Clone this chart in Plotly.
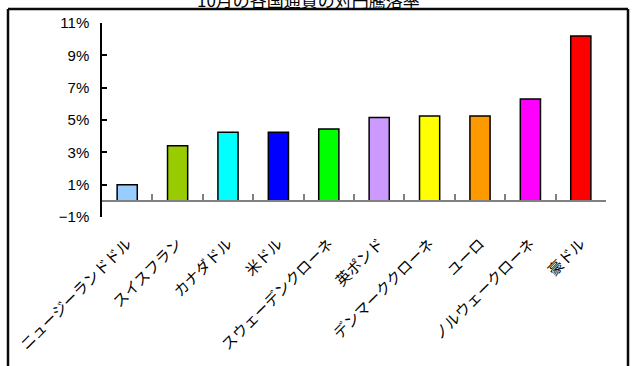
import plotly.graph_objects as go

# Currencies and their rate of change against the yen (%)
currencies = ["ニュージーランドドル", "スイスフラン", "カナダドル", "米ドル", "スウェーデンクローネ",
              "英ポンド", "デンマーククローネ", "ユーロ", "ノルウェークローネ", "豪ドル"]
change_pct = [1.0, 3.4, 4.25, 4.25, 4.45, 5.15, 5.25, 5.25, 6.3, 10.2]
bar_colors = ["#99CCFF", "#99CC00", "#00FFFF", "#0000FF", "#00FF00",
              "#CC99FF", "#FFFF00", "#FF9900", "#FF00FF", "#FF0000"]
y_ticks = [-1, 1, 3, 5, 7, 9, 11]
title_text = "10月の各国通貨の対円騰落率"

W, H = 632, 366
ML, MR, MT, MB = 102, 26, 23, 149
y_lo, y_hi = -1, 11
zero_frac = (0 - y_lo) / (y_hi - y_lo)

fig = go.Figure()
fig.add_trace(go.Bar(
    x=currencies, y=change_pct, width=0.4,
    marker=dict(color=bar_colors, line=dict(color="black", width=1.5)),
    xaxis="x", yaxis="y", showlegend=False,
))
# invisible twin used only to carry the category labels at the bottom
fig.add_trace(go.Bar(
    x=currencies, y=[None] * len(currencies), xaxis="x2", yaxis="y",
    showlegend=False, hoverinfo="skip",
))

fig.update_layout(
    width=W, height=H,
    margin=dict(l=ML, r=MR, t=MT, b=MB),
    paper_bgcolor="white", plot_bgcolor="white",
    bargap=0.6,
    xaxis=dict(
        type="category", range=[-0.5, len(currencies) - 0.5],
        anchor="free", position=zero_frac, automargin=False,
        showline=True, linecolor="#808080", linewidth=2,
        ticks="inside", tickson="boundaries", ticklen=6, tickcolor="#808080", tickwidth=1.5,
        showticklabels=False, showgrid=False, zeroline=False,
    ),
    xaxis2=dict(
        type="category", range=[-0.5, len(currencies) - 0.5],
        overlaying="x", anchor="y", side="bottom", automargin=False,
        showline=False, ticks="", showgrid=False, zeroline=False,
        tickangle=-45, ticklabelstandoff=14,
        tickfont=dict(family="Noto Sans CJK JP", size=15, color="black"),
    ),
    yaxis=dict(
        range=[y_lo, y_hi], tickvals=y_ticks, automargin=False,
        ticktext=[f"{'−' if v < 0 else ''}{abs(v)}%" for v in y_ticks],
        showline=True, linecolor="black", linewidth=1.5,
        ticks="inside", ticklen=5, tickcolor="black", tickwidth=1.5,
        showgrid=False, zeroline=False, ticklabelstandoff=8,
        tickfont=dict(family="Liberation Sans Narrow, Liberation Sans, Arial", size=15, color="black"),
    ),
    font=dict(family="Noto Sans CJK JP"),
)

# outer frame of the chart area (open at the bottom)
px_w = W - ML - MR
px_h = H - MT - MB
fx0, fx1 = (8 - ML) / px_w, (628 - ML) / px_w
fy_top, fy_bot = (H - MB - 9) / px_h, (H - MB - 380) / px_h
frame = dict(color="rgb(10,10,10)", width=2.5)
fig.add_shape(type="line", xref="paper", yref="paper", x0=fx0, y0=fy_top, x1=fx1, y1=fy_top, line=frame)
fig.add_shape(type="line", xref="paper", yref="paper", x0=fx0, y0=fy_bot, x1=fx0, y1=fy_top, line=frame)
fig.add_shape(type="line", xref="paper", yref="paper", x0=fx1, y0=fy_bot, x1=fx1, y1=fy_top, line=frame)

fig.add_annotation(
    text=title_text, xref="paper", yref="paper",
    x=(308 - ML) / px_w, y=(H - MB + 0) / px_h,
    xanchor="center", yanchor="middle", showarrow=False,
    font=dict(family="Noto Sans CJK JP", size=17, color="black"),
)

fig.write_html("out.html")
